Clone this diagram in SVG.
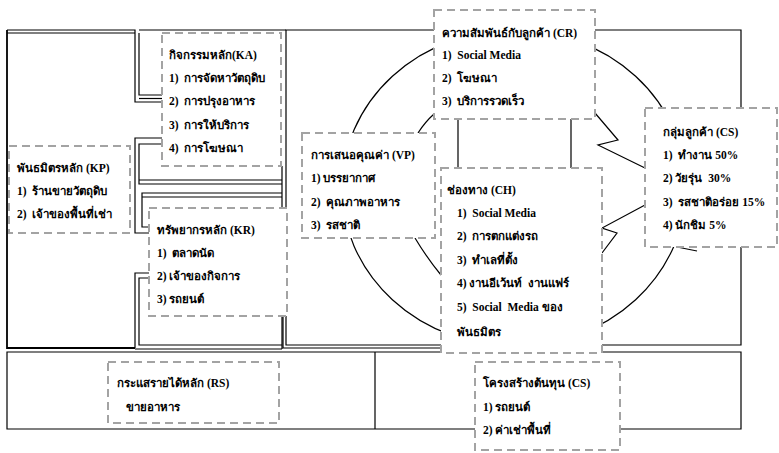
<svg xmlns="http://www.w3.org/2000/svg" width="779" height="453" viewBox="0 0 779 453">
<style>
.ln{fill:none;stroke:#000;stroke-width:1.2}
.thk{fill:none;stroke:#000;stroke-width:1.8}
.box{fill:#fff;stroke:#a3a3a3;stroke-width:2;stroke-dasharray:8 5}
text{font-family:"Liberation Serif","Noto Sans","DejaVu Serif",serif;font-weight:bold;font-size:11.5px;fill:#000;white-space:pre}
</style>
<rect width="779" height="453" fill="#fff"/>
<g id="grid">
  <path class="ln" d="M7,30 H135 V102 H162"/>
  <path class="ln" d="M7,33 H135"/>
  <path class="thk" d="M7,30 V348 H135"/>
  <path class="ln" d="M139,30 H286"/>
  <path class="ln" d="M139,33 V95 H162"/>
  <path class="ln" d="M139,98.5 H162"/>
  <path class="ln" d="M162,138 H135 V233 H149"/>
  <path class="ln" d="M162,144 H139 V184 H282"/>
  <path class="ln" d="M139,180 H282"/>
  <path class="ln" d="M282,193 H142 V227 H149"/>
  <path class="ln" d="M142,197 H282"/>
  <path class="ln" d="M149,273 H135 V348"/>
  <path class="ln" d="M149,278 H139 V345 H282"/>
  <path class="ln" d="M135,349 H282"/>
  <path class="ln" d="M282,166 V208 M282,316 V349"/>
  <path class="ln" d="M286,30 H741 V345 H286 Z"/>
  <path class="ln" d="M283,316 V348 H441"/>
  <path class="ln" d="M7,352 H741 V429 H7 Z M375,352 V429"/>
</g>
<g id="connectors">
  <ellipse class="ln" cx="514" cy="188" rx="172" ry="158"/>
  <path class="ln" d="M595,113 L618,140 L598,145 L645,168"/>
  <path class="ln" d="M645,205 L602,228 L617,233 L602,253"/>
  <path class="ln" d="M677,247 L697,251"/>
  <path class="ln" d="M418,133 Q425,122 434,114"/>
  <path class="ln" d="M415,238 Q427,258 441,275"/>
  <path class="ln" d="M458,119 V168 M571,119 V168"/>
</g>
<g id="KA">
  <rect class="box" x="162" y="33" width="119" height="133"/>
  <text x="169" y="59">กิจกรรมหลัก(KA)</text>
  <text x="169" y="82">1)  การจัดหาวัตถุดิบ</text>
  <text x="169" y="105">2)  การปรุงอาหาร</text>
  <text x="169" y="129">3)  การให้บริการ</text>
  <text x="169" y="152">4)  การโฆษณา</text>
</g>
<g id="KP">
  <rect class="box" x="9" y="146" width="121" height="87"/>
  <text x="17" y="172">พันธมิตรหลัก (KP)</text>
  <text x="17" y="195">1)  ร้านขายวัตถุดิบ</text>
  <text x="17" y="218">2)  เจ้าของพื้นที่เช่า</text>
</g>
<g id="KR">
  <rect class="box" x="149" y="208" width="138" height="108"/>
  <text x="157" y="234">ทรัพยากรหลัก (KR)</text>
  <text x="157" y="257">1)  ตลาดนัด</text>
  <text x="157" y="280">2) เจ้าของกิจการ</text>
  <text x="157" y="303">3) รถยนต์</text>
</g>
<g id="CR">
  <rect class="box" x="434" y="10" width="161" height="109"/>
  <text x="442" y="37">ความสัมพันธ์กับลูกค้า (CR)</text>
  <text x="442" y="59">1)  Social Media</text>
  <text x="442" y="82">2)  โฆษณา</text>
  <text x="442" y="105">3)  บริการรวดเร็ว</text>
</g>
<g id="VP">
  <rect class="box" x="302" y="133" width="133" height="105"/>
  <text x="311" y="159">การเสนอคุณค่า (VP)</text>
  <text x="311" y="182">1) บรรยากาศ</text>
  <text x="311" y="206">2)  คุณภาพอาหาร</text>
  <text x="311" y="229">3)  รสชาติ</text>
</g>
<g id="CH">
  <rect class="box" x="441" y="168" width="161" height="185"/>
  <text x="447" y="194">ช่องทาง (CH)</text>
  <text x="457" y="217">1)  Social Media</text>
  <text x="457" y="240">2)  การตกแต่งรถ</text>
  <text x="457" y="264">3)  ทำเลที่ตั้ง</text>
  <text x="457" y="287">4) งานอีเว้นท์  งานแฟร์</text>
  <text x="457" y="311">5)  Social  Media ของ</text>
  <text x="457" y="336">พันธมิตร</text>
</g>
<g id="CS">
  <rect class="box" x="645" y="108" width="132" height="139"/>
  <text x="663" y="136">กลุ่มลูกค้า (CS)</text>
  <text x="663" y="159">1)  ทำงาน 50%</text>
  <text x="663" y="182">2) วัยรุ่น  30%</text>
  <text x="663" y="206">3)  รสชาติอร่อย 15%</text>
  <text x="663" y="229">4) นักชิม 5%</text>
</g>
<g id="RS">
  <rect class="box" x="108" y="362" width="171" height="61"/>
  <text x="117" y="387">กระแสรายได้หลัก (RS)</text>
  <text x="126" y="411">ขายอาหาร</text>
</g>
<g id="C">
  <rect class="box" x="475" y="362" width="145" height="88"/>
  <text x="483" y="387">โครงสร้างต้นทุน (CS)</text>
  <text x="483" y="411">1) รถยนต์</text>
  <text x="483" y="434">2) ค่าเช่าพื้นที่</text>
</g>
</svg>
